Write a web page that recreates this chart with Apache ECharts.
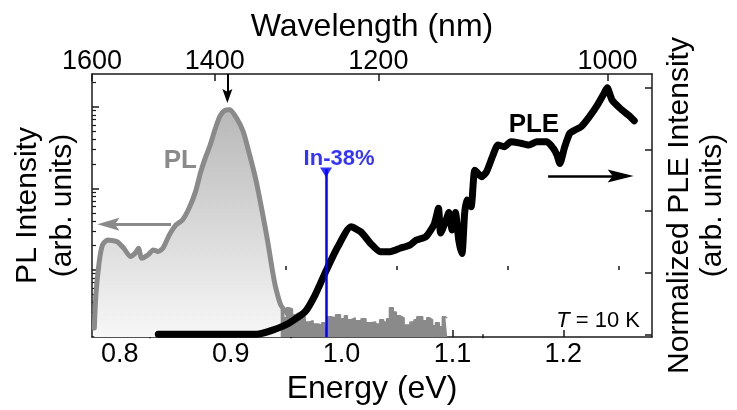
<!DOCTYPE html>
<html>
<head>
<meta charset="utf-8">
<script src="https://cdn.jsdelivr.net/npm/echarts@6/dist/echarts.min.js"></script>
<style>
  html, body { margin: 0; padding: 0; background: #fff; overflow: hidden; }
  #chart { width: 737px; height: 410px; }
</style>
</head>
<body>
<div id="chart"></div>
<script>
// Photon energy (eV) = HC / wavelength (nm)
const HC = 1239.84;

// PL spectrum, energy in eV, intensity in arb. units
const plEnergy = [0.7770, 0.7784, 0.7814, 0.7844, 0.7888, 0.7976, 0.8035, 0.8094, 0.8138, 0.8168,
  0.8197, 0.8256, 0.8300, 0.8345, 0.8389, 0.8447, 0.8506, 0.8565, 0.8624, 0.8683,
  0.8727, 0.8771, 0.8815, 0.8860, 0.8904, 0.8948, 0.8992, 0.9054, 0.9113, 0.9171,
  0.9231, 0.9290, 0.9334, 0.9378, 0.9407, 0.9451, 0.9496, 0.9555];
const plIntensity = [0.193, 0.493, 1.26, 2.03, 2.33, 2.22, 1.85, 1.46, 1.60, 1.85,
  1.39, 1.53, 1.76, 1.68, 1.85, 2.69, 3.56, 4.10, 5.71, 9.14,
  15.5, 23.7, 34.2, 53.7, 77.6, 91.0, 92.5, 72.6, 49.8, 25.8,
  12.1, 4.73, 2.22, 0.953, 0.596, 0.372, 0.308, 0.255];

// PL noise floor on the high-energy side of the emission band
const plTailEnergy = [0.9451, 0.9478, 0.9504, 0.9531, 0.9557, 0.9584, 0.9610, 0.9646, 0.9672, 0.9708,
  0.9743, 0.9787, 0.9822, 0.9849, 0.9875, 0.9910, 0.9946, 0.9990, 1.0025, 1.0052,
  1.0087, 1.0123, 1.0176, 1.0220, 1.0264, 1.0308, 1.0344, 1.0379, 1.0406, 1.0432,
  1.0467, 1.0494, 1.0529, 1.0564, 1.0617, 1.0653, 1.0679, 1.0732, 1.0768, 1.0794,
  1.0821, 1.0847, 1.0882, 1.0909, 1.0936, 1.0953];
const plTailIntensity = [0.323, 0.258, 0.342, 0.332, 0.281, 0.296, 0.273, 0.265, 0.230, 0.237,
  0.217, 0.211, 0.224, 0.194, 0.265, 0.258, 0.281, 0.251, 0.273, 0.244,
  0.258, 0.237, 0.251, 0.224, 0.230, 0.217, 0.244, 0.230, 0.251, 0.342,
  0.305, 0.273, 0.258, 0.211, 0.230, 0.244, 0.265, 0.237, 0.258, 0.244,
  0.206, 0.224, 0.200, 0.265, 0.258, 0.258];

// PLE spectrum, normalized to its maximum
const pleEnergy = [0.8347, 0.9231, 0.9378, 0.9525, 0.9672, 0.9761, 0.9864, 0.9966, 1.0085, 1.0173,
  1.0261, 1.0350, 1.0438, 1.0527, 1.0615, 1.0673, 1.0761, 1.0836, 1.0874, 1.0894,
  1.0938, 1.0968, 1.0997, 1.1027, 1.1057, 1.1086, 1.1110, 1.1130, 1.1168, 1.1203,
  1.1262, 1.1307, 1.1366, 1.1410, 1.1468, 1.1527, 1.1616, 1.1689, 1.1763, 1.1852,
  1.1910, 1.1943, 1.1969, 1.2013, 1.2058, 1.2102, 1.2161, 1.2234, 1.2307, 1.2367,
  1.2396, 1.2440, 1.2514, 1.2588, 1.2640];
const pleIntensity = [0, 0, 0.017, 0.045, 0.092, 0.159, 0.261, 0.355, 0.436, 0.416,
  0.369, 0.335, 0.335, 0.349, 0.362, 0.382, 0.396, 0.447, 0.511, 0.411,
  0.457, 0.494, 0.423, 0.494, 0.382, 0.328, 0.491, 0.545, 0.517, 0.666,
  0.639, 0.659, 0.727, 0.768, 0.761, 0.781, 0.775, 0.768, 0.781, 0.781,
  0.754, 0.727, 0.693, 0.761, 0.815, 0.828, 0.842, 0.882, 0.930, 0.977,
  1.0, 0.950, 0.916, 0.889, 0.866];

// Axis ticks
const energyTicks = [0.8, 0.9, 1.0, 1.1, 1.2];
const energyMinorTicks = [0.85, 0.95, 1.05, 1.15, 1.25];
const wavelengthTicks = [1600, 1400, 1200, 1000];
const wavelengthMinorTicks = [1500, 1300, 1100];
const plDecades = [1, 10, 100];
const plMinorTicks = [0.2, 0.3, 0.4, 0.5, 0.6, 0.7, 0.8, 0.9,
  2, 3, 4, 5, 6, 7, 8, 9, 20, 30, 40, 50, 60, 70, 80, 90, 200];
const pleTicks = [0, 0.25, 0.5, 0.75, 1.0];

// Annotations
const sampleEnergy = 0.986;   // In-38% absorption edge
const sampleLabel = 'In-38%';
const plPeakEnergy = 0.897;
const temperatureText = '{i|T} = 10 K';

const FONT = "'Liberation Sans', Arial, Helvetica, sans-serif";
const AXIS_COLOR = '#1a1a1a';
const PL_GRAY = '#8a8a8a';
const ARROW = 'path://M5,0L10,18L5,14.5L0,18Z';

const lg = v => Math.log10(v);
const E_MIN = HC / 1600;
const E_MAX = 1.28;
const PL_MIN = lg(0.15), PL_MAX = lg(254);
const PLE_MIN = -0.011, PLE_MAX = 1.056;

const zip = (xs, ys, f) => xs.map((x, i) => [x, f ? f(ys[i]) : ys[i]]);

function energyAxis(extra) {
  return Object.assign({
    type: 'value', min: E_MIN, max: E_MAX, gridIndex: 0,
    splitLine: { show: false },
    axisLine: { show: true, onZero: false, lineStyle: { color: AXIS_COLOR, width: 1.5 } }
  }, extra);
}

const option = {
  animation: false,
  backgroundColor: '#fff',
  textStyle: { fontFamily: FONT },
  grid: { left: 92, right: 75, top: 74, bottom: 73, containLabel: false },
  xAxis: [
    energyAxis({
      position: 'bottom',
      name: 'Energy (eV)', nameLocation: 'middle', nameGap: 30,
      nameTextStyle: { fontSize: 32, color: '#000', fontFamily: FONT },
      axisTick: { show: true, inside: true, length: 7, customValues: energyTicks,
        lineStyle: { color: AXIS_COLOR, width: 1.5 } },
      axisLabel: { show: true, customValues: energyTicks, margin: 4, fontSize: 27, color: '#000',
        fontFamily: FONT, formatter: v => v.toFixed(1) }
    }),
    energyAxis({
      position: 'bottom',
      axisLine: { show: false },
      axisTick: { show: true, inside: true, length: 4, customValues: energyMinorTicks,
        lineStyle: { color: AXIS_COLOR, width: 1.5 } },
      axisLabel: { show: false }
    }),
    energyAxis({
      position: 'top',
      name: 'Wavelength (nm)', nameLocation: 'middle', nameGap: 31,
      nameTextStyle: { fontSize: 32, color: '#000', fontFamily: FONT },
      axisTick: { show: true, inside: true, length: 7,
        customValues: wavelengthTicks.map(w => HC / w),
        lineStyle: { color: AXIS_COLOR, width: 1.5 } },
      axisLabel: { show: true, customValues: wavelengthTicks.map(w => HC / w), margin: -1,
        fontSize: 27, color: '#000', fontFamily: FONT,
        formatter: v => String(Math.round(HC / v)) }
    }),
    energyAxis({
      position: 'top',
      axisLine: { show: false },
      axisTick: { show: true, inside: true, length: 4,
        customValues: wavelengthMinorTicks.map(w => HC / w),
        lineStyle: { color: AXIS_COLOR, width: 1.5 } },
      axisLabel: { show: false }
    })
  ],
  yAxis: [
    {
      type: 'value', position: 'left', min: PL_MIN, max: PL_MAX,
      name: 'PL Intensity\n(arb. units)', nameLocation: 'middle', nameRotate: 90, nameGap: 12,
      nameTextStyle: { fontSize: 30, lineHeight: 35, color: '#000', fontFamily: FONT, align: 'center' },
      splitLine: { show: false },
      axisLine: { show: true, onZero: false, lineStyle: { color: AXIS_COLOR, width: 1.5 } },
      axisTick: { show: true, inside: true, length: 7, customValues: plDecades.map(lg),
        lineStyle: { color: AXIS_COLOR, width: 1.5 } },
      axisLabel: { show: false }
    },
    {
      type: 'value', position: 'right', min: PLE_MIN, max: PLE_MAX,
      name: 'Normalized PLE Intensity\n(arb. units)', nameLocation: 'middle', nameRotate: 90, nameGap: 11,
      nameTextStyle: { fontSize: 30, lineHeight: 33, color: '#000', fontFamily: FONT, align: 'center' },
      splitLine: { show: false },
      axisLine: { show: true, onZero: false, lineStyle: { color: AXIS_COLOR, width: 1.5 } },
      axisTick: { show: true, inside: true, length: 7, customValues: pleTicks,
        lineStyle: { color: AXIS_COLOR, width: 1.5 } },
      axisLabel: { show: false }
    },
    {
      type: 'value', position: 'left', min: PL_MIN, max: PL_MAX,
      splitLine: { show: false },
      axisLine: { show: false },
      axisTick: { show: true, inside: true, length: 4, customValues: plMinorTicks.map(lg),
        lineStyle: { color: AXIS_COLOR, width: 1.2 } },
      axisLabel: { show: false }
    }
  ],
  series: [
    {
      name: 'PL',
      type: 'line', xAxisIndex: 0, yAxisIndex: 0,
      data: zip(plEnergy, plIntensity, lg),
      showSymbol: false, smooth: 0.2, z: 2,
      lineStyle: { color: PL_GRAY, width: 5, join: 'round', cap: 'round' },
      areaStyle: {
        origin: 'start', opacity: 1,
        color: new echarts.graphic.LinearGradient(0, 0, 0, 1, [
          { offset: 0, color: '#b8b8b8' }, { offset: 1, color: '#f7f7f7' }
        ])
      },
      markPoint: {
        silent: true, symbol: 'circle', symbolSize: 1, itemStyle: { color: 'rgba(0,0,0,0)' },
        label: { show: true, position: 'inside', fontSize: 26, fontWeight: 'bold', color: PL_GRAY,
          fontFamily: FONT, formatter: 'PL' },
        data: [{ coord: [0.8546, lg(21.7)] }]
      },
      markLine: {
        silent: true, animation: false, symbol: ['none', ARROW],
        label: { show: false },
        data: [
          [
            { coord: [0.8462, lg(3.64)], lineStyle: { color: PL_GRAY, width: 3, type: 'solid' },
              symbolSize: 0 },
            { coord: [0.7897, lg(3.64)], symbolSize: [13, 22] }
          ],
          [
            { coord: [plPeakEnergy, PL_MAX], lineStyle: { color: '#000', width: 2, type: 'solid' },
              symbolSize: 0 },
            { coord: [plPeakEnergy, lg(136)], symbolSize: [10, 14] }
          ]
        ]
      }
    },
    {
      name: 'PL noise',
      type: 'line', xAxisIndex: 0, yAxisIndex: 0,
      data: zip(plTailEnergy, plTailIntensity, lg),
      showSymbol: false, step: 'end', z: 2,
      lineStyle: { color: PL_GRAY, width: 1.5 },
      areaStyle: { origin: 'start', color: PL_GRAY, opacity: 1 }
    },
    {
      name: 'PLE',
      type: 'line', xAxisIndex: 0, yAxisIndex: 1,
      data: zip(pleEnergy, pleIntensity),
      showSymbol: false, smooth: 0.2, z: 3,
      lineStyle: { color: '#000', width: 7, join: 'round', cap: 'round' },
      markPoint: {
        silent: true, symbol: 'circle', symbolSize: 1, itemStyle: { color: 'rgba(0,0,0,0)' },
        label: { show: true, position: 'inside', color: '#000', fontFamily: FONT },
        data: [
          { coord: [1.1735, 0.849], label: { formatter: 'PLE', fontSize: 26, fontWeight: 'bold' } },
          { coord: [1.2314, 0.054], label: { formatter: temperatureText, fontSize: 22,
              rich: { i: { fontStyle: 'italic', fontSize: 22, fontFamily: FONT, color: '#000' } } } }
        ]
      },
      markLine: {
        silent: true, animation: false, symbol: ['none', ARROW],
        label: { show: false },
        lineStyle: { color: '#000', width: 2.5, type: 'solid' },
        data: [[{ coord: [1.1863, 0.642], symbolSize: 0 }, { coord: [1.2517, 0.642], symbolSize: [13, 26] }]]
      }
    },
    {
      name: sampleLabel,
      type: 'scatter', xAxisIndex: 0, yAxisIndex: 1, z: 5,
      data: [[sampleEnergy, 0.656]],
      symbol: 'triangle', symbolRotate: 180, symbolSize: [12, 10],
      itemStyle: { color: '#0000ff' },
      label: { show: true, position: 'top', distance: 0, offset: [13, 2], formatter: sampleLabel,
        fontSize: 22, fontWeight: 'bold', color: '#0000ff', fontFamily: FONT },
      markLine: {
        silent: true, animation: false, symbol: ['none', 'none'],
        label: { show: false },
        lineStyle: { color: '#0000ff', width: 2.5, type: 'solid' },
        data: [[{ coord: [sampleEnergy, PLE_MIN] }, { coord: [sampleEnergy, 0.67] }]]
      }
    }
  ]
};

const chart = echarts.init(document.getElementById('chart'), null, { renderer: 'canvas' });
chart.setOption(option);
</script>
</body>
</html>
